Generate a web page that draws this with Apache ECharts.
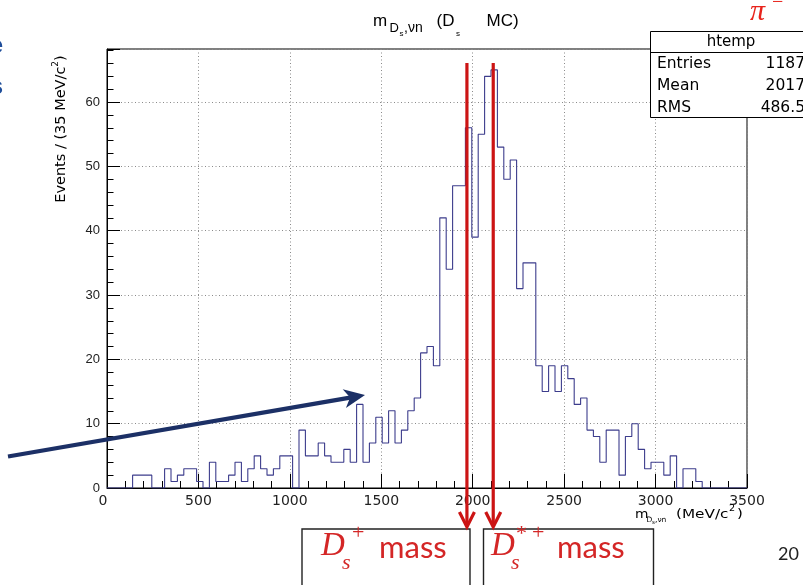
<!DOCTYPE html>
<html><head><meta charset="utf-8">
<script src="https://cdn.jsdelivr.net/npm/echarts@6/dist/echarts.min.js"></script>
<style>html,body{margin:0;padding:0;background:#fff;overflow:hidden}#c{width:803px;height:585px}</style>
</head><body><div id="c"></div>
<script>
// ---- data (35 MeV bins from 0 to 3500) ----
const binWidth = 35;
const xRange = [0, 3500];
const counts = [
  0,0,0,0,2,2,2,0,0,3,
  1,2,3,3,1,0,4,1,1,2,
  4,1,3,5,3,2,3,5,5,0,
  9,5,5,7,5,4,4,6,4,13,
  4,7,11,7,12,7,9,12,14,21,
  22,19,42,34,47,47,56,39,55,64,
  65,53,48,51,31,35,35,19,15,19,
  15,19,17,13,14,9,8,4,9,9,
  2,8,10,6,3,4,4,2,5,0,
  3,3,1,0,0,0,0,0,0,0
];
const yMax = 68.25;
const statsLabels = ['Entries', 'Mean', 'RMS'];
const statsValues = ['1187', '2017', '486.5'];
const massValues = [1968.35, 2112.2];      // D_s+ and D_s*+ masses, MeV

// ---- chart ----
const el = document.getElementById('c');
const chart = echarts.init(el, null, {renderer: 'canvas', width: 803, height: 585});

const histPoints = counts.map((v, i) => [xRange[0] + i * binWidth, v]);
histPoints.push([xRange[0] + counts.length * binWidth, counts[counts.length - 1]]);

const gridLine = {color: '#8a8a8a', width: 1, type: [1, 2.5]};
const option = {
  animation: false,
  backgroundColor: '#ffffff',
  grid: {left: 107, right: 56, top: 49, bottom: 97, show: true, borderColor: '#000', borderWidth: 1,
         backgroundColor: 'transparent', containLabel: false, outerBoundsMode: 'none'},
  xAxis: {
    type: 'value', min: xRange[0], max: xRange[1], interval: 500,
    axisLine: {show: true, onZero: false, lineStyle: {color: '#000', width: 1}},
    axisTick: {show: true, inside: true, length: 14, lineStyle: {color: '#000', width: 1}},
    minorTick: {show: true, splitNumber: 5, length: 7, lineStyle: {color: '#000', width: 1}},
    splitLine: {show: true, lineStyle: gridLine},
    axisLabel: {fontFamily: 'DejaVu Sans', fontSize: 14, color: '#222', margin: 6,
                showMinLabel: true, showMaxLabel: true,
                formatter: v => (v === xRange[0] ? '{z|' + v + '}' : String(v)),
                rich: {z: {fontFamily: 'DejaVu Sans', fontSize: 14, color: '#222', padding: [0, 8, 0, 0]}}}
  },
  yAxis: [{
    type: 'value', min: 0, max: yMax, interval: 10, position: 'left',
    axisLine: {show: true, lineStyle: {color: '#000', width: 1}},
    axisTick: {show: true, inside: true, length: 13, lineStyle: {color: '#000', width: 1}},
    splitLine: {show: true, lineStyle: gridLine},
    axisLabel: {fontFamily: 'Liberation Sans', fontSize: 13, color: '#222', margin: 7,
                formatter: v => (Math.abs(v % 10) < 1e-9 ? String(v) : '')}
  }, {
    type: 'value', min: 0, max: yMax, interval: 2, position: 'left',
    axisLine: {show: false}, splitLine: {show: false}, axisLabel: {show: false},
    axisTick: {show: true, inside: true, length: 6.5, lineStyle: {color: '#000', width: 1}}
  }],
  series: [{
    type: 'line', step: 'end', data: histPoints, yAxisIndex: 0,
    showSymbol: false, symbol: 'none', silent: true, z: 3,
    lineStyle: {color: '#3c3c8c', width: 1.1}
  }]
};
chart.setOption(option);

// ---- annotations ----
const g = [];
function t(x, y, text, font, fill, styleExtra, elExtra) {
  const style = Object.assign({text: text, font: font, fill: fill || '#000', align: 'left', verticalAlign: 'middle'}, styleExtra || {});
  return Object.assign({type: 'text', x: x, y: y, z: 60, silent: true, style: style}, elExtra || {});
}

// title  m_{D_s,νn} (D_s MC)
g.push(t(373, 21, 'm', '17px "Liberation Sans"'));
g.push(t(389.5, 28, 'D', '13px "Liberation Sans"'));
g.push(t(399.5, 33.5, 's', '8px "Liberation Sans"'));
g.push(t(404, 28, ',νn', '14px "Liberation Sans"'));
g.push(t(436.5, 21, '(D', '17px "Liberation Sans"'));
g.push(t(456, 33.5, 's', '8px "Liberation Sans"'));
g.push(t(486.5, 21, 'MC)', '17px "Liberation Sans"'));

// pi^- in red (top right)
g.push(t(750, 12, 'π', 'italic 30px "Liberation Serif"', '#e8241c'));
g.push(t(772, 3, '−', '20px "Liberation Serif"', '#e8241c'));

// stats box
g.push({type: 'rect', z: 55, silent: true, shape: {x: 650.5, y: 31.5, width: 170, height: 86},
        style: {fill: '#fff', stroke: '#000', lineWidth: 1}});
g.push({type: 'line', z: 56, silent: true, shape: {x1: 650.5, y1: 52.5, x2: 820, y2: 52.5},
        style: {stroke: '#000', lineWidth: 1}});
g.push(t(731, 42, 'htemp', '15px "DejaVu Sans"', '#000', {align: 'center'}));
statsLabels.forEach((lab, i) => {
  g.push(t(657, 63.5 + i * 22, lab, '15.5px "DejaVu Sans"'));
  g.push(t(805, 63.5 + i * 22, statsValues[i], '15.5px "DejaVu Sans"', '#000', {align: 'right'}));
});

// y-axis title (rotated)
g.push({type: 'text', x: 61, y: 129, rotation: Math.PI / 2, z: 60, silent: true,
  style: {text: '{b|Events / (35 MeV/c}{p|2}{b|)}', align: 'center', verticalAlign: 'middle',
    rich: {b: {fontFamily: 'DejaVu Sans', fontSize: 14.5, fill: '#000', verticalAlign: 'middle'},
           p: {fontFamily: 'DejaVu Sans', fontSize: 9, fill: '#000', verticalAlign: 'middle', padding: [0, 0, 10, 0]}}}});

// x-axis title  m_{D_s,νn} (MeV/c^2), ends at the right frame edge
g.push(t(635, 515, 'm', '12px "DejaVu Sans"', '#000', null, {scaleX: 1.15}));
g.push(t(646.5, 520.5, 'D', '7.5px "DejaVu Sans"'));
g.push(t(652, 523, 's', '5.5px "DejaVu Sans"'));
g.push(t(655, 520.5, ',νn', '7.5px "DejaVu Sans"'));
g.push(t(676, 515, '(MeV/c', '12.5px "DejaVu Sans"', '#000', null, {scaleX: 1.22}));
g.push(t(729, 509, '2', '8px "DejaVu Sans"', '#000', null, {scaleX: 1.2}));
g.push(t(737, 515, ')', '12.5px "DejaVu Sans"', '#000', null, {scaleX: 1.2}));

// navy arrow pointing to the peak region
(function () {
  const x0 = 8, y0 = 456.5, tx = 365, ty = 395;
  const dx = tx - x0, dy = ty - y0, L = Math.hypot(dx, dy);
  const ux = dx / L, uy = dy / L, nx = -uy, ny = ux;
  const hl = 21, hw = 9.5;
  const bx = tx - hl * ux, by = ty - hl * uy;
  const ix = tx - hl * 0.72 * ux, iy = ty - hl * 0.72 * uy;
  g.push({type: 'line', z: 58, silent: true, shape: {x1: x0, y1: y0, x2: ix, y2: iy},
          style: {stroke: '#1c3066', lineWidth: 4.2}});
  g.push({type: 'polygon', z: 58, silent: true,
          shape: {points: [[tx, ty], [bx + hw * nx, by + hw * ny], [ix, iy], [bx - hw * nx, by - hw * ny]]},
          style: {fill: '#1c3066'}});
})();

// red mass lines with arrows, x from the axis scale
massValues.forEach(m => {
  const px = chart.convertToPixel({xAxisIndex: 0}, m);
  g.push({type: 'line', z: 62, silent: true, shape: {x1: px, y1: 63, x2: px, y2: 526},
          style: {stroke: '#cc1414', lineWidth: 3.2}});
  g.push({type: 'polyline', z: 62, silent: true, shape: {points: [[px - 7.5, 512], [px, 527], [px + 7.5, 512]]},
          style: {stroke: '#cc1414', lineWidth: 3.2, fill: null, lineJoin: 'miter'}});
});

// boxes with labels
g.push({type: 'rect', z: 60, silent: true, shape: {x: 302, y: 529, width: 168, height: 70},
        style: {fill: '#fff', stroke: '#222', lineWidth: 1.4}});
g.push({type: 'rect', z: 60, silent: true, shape: {x: 483.5, y: 529, width: 170, height: 70},
        style: {fill: '#fff', stroke: '#222', lineWidth: 1.4}});
const red = '#d42626';
// box 1: D_s^+ mass
g.push(t(321, 546, 'D', 'italic 33px "Liberation Serif"', red));
g.push(t(342, 563, 's', 'italic 22px "Liberation Serif"', red));
g.push(t(352, 533, '+', '22px "Liberation Serif"', red));
g.push(t(379, 548, 'mass', '31px Lato', red));
// box 2: D_s^{*+} mass
g.push(t(491, 546, 'D', 'italic 33px "Liberation Serif"', red));
g.push(t(511, 563, 's', 'italic 22px "Liberation Serif"', red));
g.push(t(516, 534, '*', '22px "Liberation Serif"', red));
g.push(t(532, 533, '+', '22px "Liberation Serif"', red));
g.push(t(557, 548, 'mass', '31px Lato', red));

// slide page number
g.push(t(778, 554, '20', '18px Lato', '#222'));

// clipped slide text at the left edge (only a sliver is visible)
g.push(t(3, 46, 'e', 'bold 24px "Liberation Sans"', '#1f4e9a', {align: 'right'}));
g.push(t(3, 87, 's', 'bold 24px "Liberation Sans"', '#1f4e9a', {align: 'right'}));

chart.setOption({graphic: g});
</script>
</body></html>
